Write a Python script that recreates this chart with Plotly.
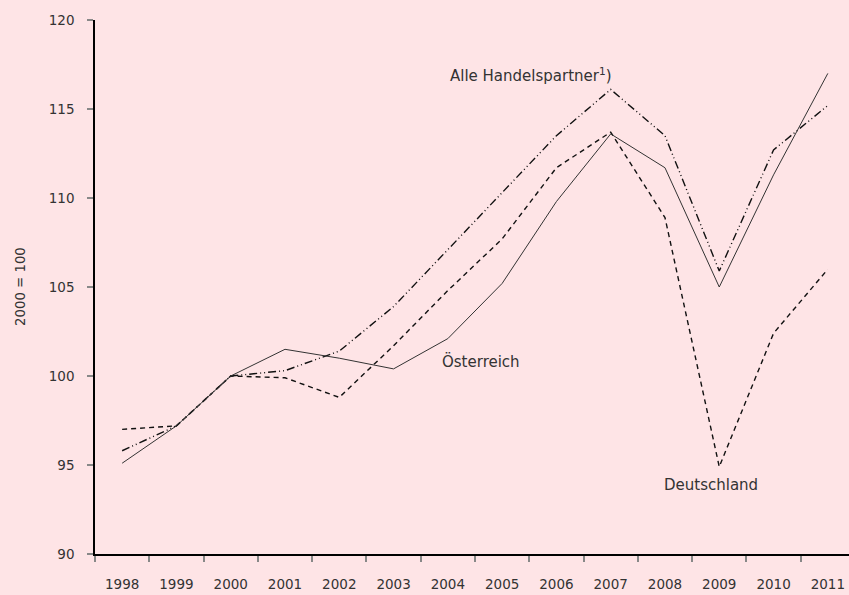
import plotly.graph_objects as go

years = ["1998", "1999", "2000", "2001", "2002", "2003", "2004", "2005",
         "2006", "2007", "2008", "2009", "2010", "2011"]
oesterreich = [95.1, 97.2, 100.0, 101.5, 101.0, 100.4, 102.1, 105.2,
               109.8, 113.6, 111.7, 105.0, 111.3, 117.0]
deutschland = [97.0, 97.2, 100.0, 99.9, 98.8, 101.7, 104.8, 107.7,
               111.7, 113.7, 108.9, 94.9, 102.4, 106.0]
alle_handelspartner = [95.8, 97.2, 100.0, 100.3, 101.4, 103.9, 107.1, 110.3,
                       113.5, 116.1, 113.5, 105.9, 112.7, 115.2]
y_ticks = [90, 95, 100, 105, 110, 115, 120]

bg = "#FEE4E6"
font_family = "DejaVu Sans, sans-serif"
txt = "#333333"

fig = go.Figure()
fig.add_trace(go.Scatter(x=years, y=alle_handelspartner, mode="lines",
                         line=dict(color="#111111", width=1.4,
                                   dash="8px,3px,1px,3px,1px,3px"),
                         name="Alle Handelspartner"))
fig.add_trace(go.Scatter(x=years, y=deutschland, mode="lines",
                         line=dict(color="#111111", width=1.4, dash="5px,4px"),
                         name="Deutschland"))
fig.add_trace(go.Scatter(x=years, y=oesterreich, mode="lines",
                         line=dict(color="#333333", width=1),
                         name="Österreich"))

ann_font = dict(size=15, color=txt, family=font_family)
fig.add_annotation(x=7.53, y=116.9, xref="x", yref="y",
                   text="Alle Handelspartner<sup>1</sup>)", showarrow=False,
                   font=ann_font)
fig.add_annotation(x=6.61, y=100.82, xref="x", yref="y",
                   text="Österreich", showarrow=False, font=ann_font)
fig.add_annotation(x=10.85, y=93.9, xref="x", yref="y",
                   text="Deutschland", showarrow=False, font=ann_font)
fig.add_annotation(x=-75 / 754, y=0.5, xref="paper", yref="paper",
                   text="2000 = 100", textangle=-90, showarrow=False,
                   xanchor="center", yanchor="middle",
                   font=dict(size=13.3, color=txt, family=font_family))

fig.update_layout(
    width=849, height=595,
    paper_bgcolor=bg, plot_bgcolor=bg,
    margin=dict(l=95, r=0, t=20, b=41),
    showlegend=False,
    font=dict(family=font_family, size=13, color=txt),
    xaxis=dict(type="category", range=[-0.5, 13.39], tickson="boundaries",
               automargin=False,
               ticks="outside", ticklen=6, tickcolor="#888888", tickwidth=1.5,
               showline=True, linecolor="#000000", linewidth=1.5,
               showgrid=False, zeroline=False, ticklabelstandoff=17,
               tickfont=dict(size=13.5, color=txt, family=font_family)),
    yaxis=dict(range=[90, 120], tickvals=y_ticks, automargin=False,
               ticks="outside", ticklen=6, tickcolor="#888888", tickwidth=1.5,
               showline=True, linecolor="#000000", linewidth=1.5,
               showgrid=False, zeroline=False, ticklabelstandoff=10,
               tickfont=dict(size=13.5, color=txt, family=font_family)),
)

fig.write_html(
    "out.html",
    config={"displayModeBar": False},
    post_script="document.body.style.margin='0';"
                "document.body.style.background='" + bg + "';",
)
